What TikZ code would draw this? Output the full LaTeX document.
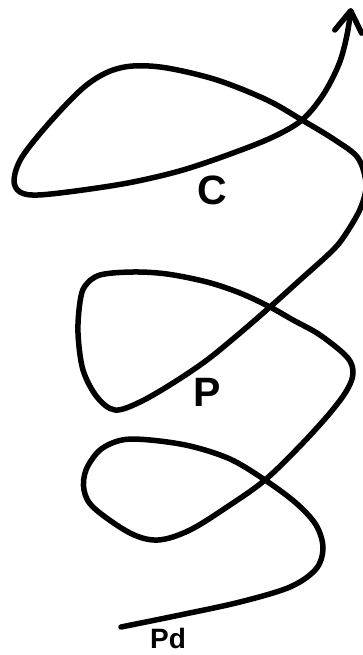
\documentclass[tikz,border=0pt]{standalone}
\usepackage{fontspec}
\setmainfont{Liberation Sans}
\usetikzlibrary{arrows.meta}
\begin{document}
\begin{tikzpicture}[x=1pt,y=-1pt,
  curve/.style={line width=5.5pt,line cap=round,line join=round},
  lbl/.style={font=\bfseries\fontsize{41}{41}\selectfont,inner sep=0pt,anchor=base},
  lblsmall/.style={font=\bfseries\fontsize{28}{28}\selectfont,inner sep=0pt,anchor=base}]
\useasboundingbox (0,0) rectangle (362,655);
\coordinate (start) at (121,627);
\coordinate (tip) at (351,8);
\draw[curve,-{Straight Barb[length=21pt,width=27pt,round]}] plot[smooth,tension=0.55] coordinates {
 (121,627) (180,615) (240,602) (290,587) (316,569) (323,548) (316,525) (296,503)
 (265,480) (230,459) (190,446) (150,440) (122,440) (100,450) (86,470) (84,490) (94,508)
 (130,533) (158,540) (190,530) (230,505) (265,480)
 (300,446) (330,413) (347,390) (353,373) (347,357) (320,335) (293,320)
 (270,307) (240,293) (207,282) (167,274) (133,272) (100,275) (85,286) (80,302)
 (78,333) (83,370) (97,397) (115,410) (140,402) (173,383) (207,360) (240,333)
 (270,307) (300,280) (333,250) (347,232) (361,207) (366,184) (358,158) (335,140)
 (302,120) (267,100) (217,80) (167,68) (133,66) (108,72) (83,88) (50,122) (22,157)
 (14,180) (20,192) (38,195) (83,190) (133,182) (183,170) (233,153) (273,137)
 (302,120) (323,95) (339,64) (347,35) (351,8)};
\node[lbl] (C) at (212,204) {C};
\node[lbl] (P) at (207,406) {P};
\node[lblsmall] (Pd) at (168,648) {Pd};
\end{tikzpicture}
\end{document}
